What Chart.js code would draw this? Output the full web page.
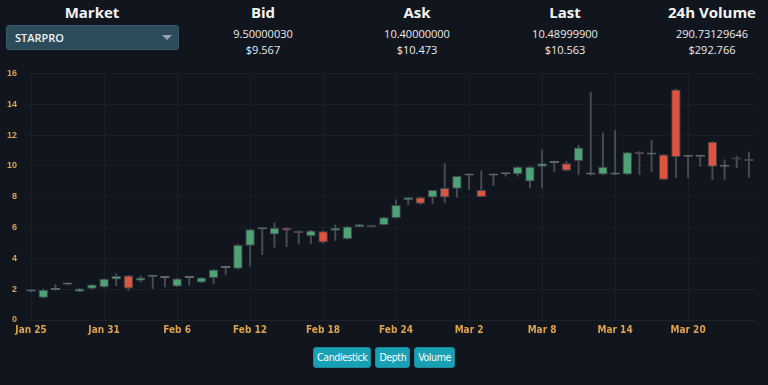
<!DOCTYPE html>
<html>
<head>
<meta charset="utf-8">
<script src="https://cdn.jsdelivr.net/npm/chart.js@4.4.1/dist/chart.umd.min.js"></script>
<style>
  html, body { margin:0; padding:0; background:#11151d; width:768px; height:385px; overflow:hidden; font-family:'Open Sans', sans-serif; }
  .col { position:absolute; top:0; text-align:center; color:#e9ecef; transform:translateX(-50%); white-space:nowrap; }
  .col h4 { margin:0; font-size:15px; font-weight:700; line-height:24px; color:#f3f4f6; }
  .col .v { font-size:11px; line-height:16px; }
  .col .v1 { margin-top:2px; }
  #market { position:absolute; left:6px; top:25px; width:173px; height:25px; background:#2c4b5b; border:1px solid #385a6b; border-radius:3px; box-sizing:border-box; color:#eef2f4; font-size:11px; font-weight:600; line-height:23px; padding-left:8px; }
  #market .arr { position:absolute; right:6px; top:9px; width:0; height:0; border-left:5px solid transparent; border-right:5px solid transparent; border-top:5px solid #9aa6ad; }
  #wrap { position:absolute; left:0; top:60px; width:768px; height:282px; }
  #btns { position:absolute; top:347px; left:0; width:768px; text-align:center; font-size:0; }
  #btns span { display:inline-block; background:#18a0b5; color:#fff; font-family:'Liberation Sans Narrow', 'DejaVu Sans Condensed', 'Liberation Sans', Arial, sans-serif; font-size:10.5px; letter-spacing:-0.4px; line-height:19px; height:19px; padding:0 3px; margin:0 2px; border-radius:3px; border:1px solid #1f8796; }
</style>
</head>
<body>
<div class="col" style="left:92px"><h4>Market</h4></div>
<div id="market">STARPRO<div class="arr"></div></div>
<div class="col" style="left:263px"><h4>Bid</h4><div class="v v1">9.50000030</div><div class="v">$9.567</div></div>
<div class="col" style="left:417px"><h4>Ask</h4><div class="v v1">10.40000000</div><div class="v">$10.473</div></div>
<div class="col" style="left:565px"><h4>Last</h4><div class="v v1">10.48999900</div><div class="v">$10.563</div></div>
<div class="col" style="left:712px"><h4>24h Volume</h4><div class="v v1">290.73129646</div><div class="v">$292.766</div></div>
<div id="wrap"><canvas id="chart"></canvas></div>
<div id="btns"><span>Candlestick</span><span>Depth</span><span>Volume</span></div>
<script>
const dates = [
  'Jan 25','Jan 26','Jan 27','Jan 28','Jan 29','Jan 30','Jan 31','Feb 1','Feb 2','Feb 3',
  'Feb 4','Feb 5','Feb 6','Feb 7','Feb 8','Feb 9','Feb 10','Feb 11','Feb 12','Feb 13',
  'Feb 14','Feb 15','Feb 16','Feb 17','Feb 18','Feb 19','Feb 20','Feb 21','Feb 22','Feb 23',
  'Feb 24','Feb 25','Feb 26','Feb 27','Feb 28','Mar 1','Mar 2','Mar 3','Mar 4','Mar 5',
  'Mar 6','Mar 7','Mar 8','Mar 9','Mar 10','Mar 11','Mar 12','Mar 13','Mar 14','Mar 15',
  'Mar 16','Mar 17','Mar 18','Mar 19','Mar 20','Mar 21','Mar 22','Mar 23','Mar 24','Mar 25'
];
const open  = [1.85,1.45,1.95,2.30,1.83,2.02,2.13,2.62,2.88,2.55, 2.80,2.73,2.17,2.73,2.43,2.73,3.38,3.32,4.82,5.89,
               5.55,5.98,5.78,5.44,5.76,5.79,5.25,6.04,6.15,6.17, 6.62,7.77,7.96,7.94,8.56,8.52,9.38,8.43,9.38,9.46,
               9.46,8.99,9.94,10.19,10.17,10.32,9.44,9.44,9.44,9.44, 10.90,10.73,10.73,14.95,10.60,10.60,11.57,9.94,10.52,10.43];
const high  = [1.87,2.00,2.30,2.32,2.05,2.30,2.67,3.00,2.90,2.86, 2.82,2.75,2.69,2.75,2.75,3.27,3.45,4.93,5.89,5.95,
               6.30,6.00,5.80,5.81,5.78,6.17,6.06,6.21,6.16,6.67, 7.79,7.96,7.97,8.43,10.15,9.34,9.40,9.68,9.45,9.48,
               9.95,9.95,11.03,10.21,10.30,11.35,14.77,12.13,12.30,10.88, 10.92,11.66,10.75,14.97,10.62,10.62,11.58,10.39,10.62,10.90];
const low   = [1.83,1.43,1.93,2.28,1.82,2.00,2.12,2.21,1.90,2.45, 2.04,2.15,2.16,2.26,2.42,2.37,2.95,3.30,3.50,4.24,
               4.73,4.75,4.95,4.95,4.98,5.16,5.24,6.03,6.03,6.16, 6.60,7.46,7.50,7.55,7.60,7.96,8.45,7.98,8.73,9.34,
               9.34,8.56,8.56,9.63,9.68,9.44,9.40,9.43,9.43,9.43, 9.44,9.63,9.10,9.23,9.23,9.96,9.12,9.12,9.89,9.25];
const close = [1.85,1.97,1.95,2.30,2.05,2.30,2.67,2.86,2.05,2.75, 2.80,2.73,2.69,2.73,2.75,3.27,3.38,4.86,5.89,5.89,
               5.98,5.80,5.63,5.81,5.03,5.98,6.06,6.21,6.04,6.67, 7.46,7.96,7.55,8.43,7.94,9.34,9.38,7.98,9.38,9.46,
               9.95,9.95,10.17,10.19,9.68,11.20,9.44,9.94,9.44,10.88, 10.75,10.73,9.10,10.58,10.60,10.60,9.94,9.94,10.41,10.32];
const yTicks = [0,2,4,6,8,10,12,14,16];

const UP = '#4fa276', DOWN = '#dd5440', FLAT = '#60646c';
const TICK = '#dca24c';

const bodyColor = open.map((o, i) => close[i] > o ? UP : close[i] < o ? DOWN : FLAT);

new Chart(document.getElementById('chart'), {
  type: 'bar',
  data: {
    labels: dates,
    datasets: [
      { // cuerpos
        data: open.map((o, i) => [Math.min(o, close[i]), Math.max(o, close[i])]),
        backgroundColor: bodyColor,
        borderColor: open.map((o, i) => o === close[i] ? FLAT : '#40454d'),
        borderWidth: 1,
        borderSkipped: false,
        minBarLength: 2,
        barPercentage: 0.78,
        categoryPercentage: 1,
        grouped: false,
        order: 0
      },
      { // mechas
        data: low.map((l, i) => [l, high[i]]),
        backgroundColor: '#474b53',
        barThickness: 1.3,
        grouped: false,
        order: 1
      }
    ]
  },
  options: {
    responsive: true,
    maintainAspectRatio: false,
    animation: false,
    layout: { padding: { top: 12, right: 13, left: 0, bottom: 0 } },
    plugins: { legend: { display: false }, tooltip: { enabled: false } },
    scales: {
      x: {
        offset: true,
        grid: {
          offset: false,
          color: ctx => ctx.index % 6 === 0 ? 'rgba(255,255,255,0.035)' : 'rgba(0,0,0,0)',
          drawTicks: false
        },
        border: { color: '#1c212a' },
        ticks: {
          autoSkip: false, maxRotation: 0, padding: 4,
          color: TICK, font: { family: "'Liberation Sans Narrow', 'DejaVu Sans Condensed', 'Liberation Sans', Arial, sans-serif", size: 10, weight: '700' },
          callback: (v, i) => i % 6 === 0 ? dates[i] : ''
        },
        afterFit: s => { s.height = 22; }
      },
      y: {
        min: 0, max: 16,
        afterBuildTicks: s => { s.ticks = yTicks.map(v => ({ value: v })); },
        grid: { color: 'rgba(255,255,255,0.03)', drawTicks: false },
        border: { display: false },
        ticks: {
          padding: 8,
          color: TICK, font: { family: "'Liberation Sans', Arial, sans-serif", size: 9, weight: '700' }
        },
        afterFit: s => { s.width = 25; }
      }
    }
  }
});
</script>
</body>
</html>
